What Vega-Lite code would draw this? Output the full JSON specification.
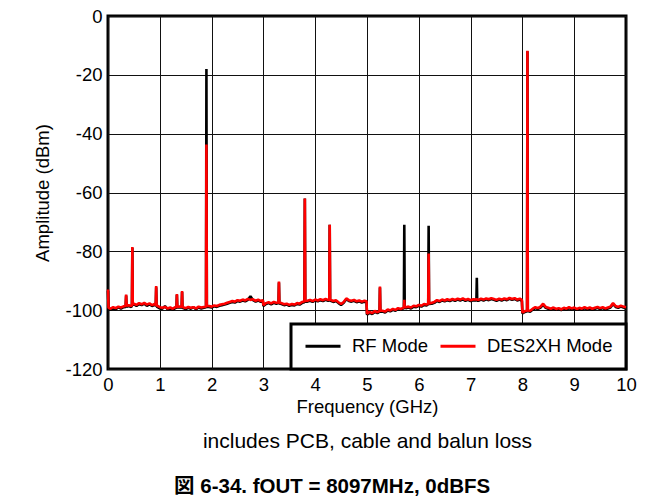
{
  "$schema": "https://vega.github.io/schema/vega-lite/v6.json",
  "autosize": "none",
  "width": 518,
  "height": 353,
  "padding": {"left": 108, "top": 16, "right": 37, "bottom": 133},
  "background": "white",
  "title": {
    "text": "図 6-34. fOUT = 8097MHz, 0dBFS",
    "orient": "bottom",
    "anchor": "middle",
    "frame": "bounds",
    "offset": 26,
    "dx": -3,
    "fontSize": 20.5,
    "fontWeight": "bold",
    "color": "black",
    "font": "Liberation Sans, Noto Sans CJK JP, sans-serif"
  },
  "config": {
    "font": "Liberation Sans, sans-serif",
    "locale": {"number": {"decimal": ".", "thousands": ",", "grouping": [3], "currency": ["$", ""], "minus": "-"}},
    "view": {"stroke": "black", "strokeWidth": 3},
    "axis": {
      "domain": false,
      "ticks": false,
      "grid": true,
      "gridColor": "#111",
      "gridWidth": 1,
      "gridOpacity": 1,
      "labelFlush": false,
      "labelFontSize": 18.5,
      "labelColor": "black",
      "titleFontSize": 18.5,
      "titleFontWeight": "normal",
      "titleColor": "black"
    }
  },
  "data": {
    "values": [
      {"f": 0.00, "RF Mode": -93.5, "DES2XH Mode": -93.0},
      {"f": 0.01, "RF Mode": -99.6, "DES2XH Mode": -99.2},
      {"f": 0.05, "RF Mode": -99.8, "DES2XH Mode": -99.5},
      {"f": 0.10, "RF Mode": -99.4, "DES2XH Mode": -99.0},
      {"f": 0.15, "RF Mode": -99.7, "DES2XH Mode": -99.3},
      {"f": 0.20, "RF Mode": -99.0, "DES2XH Mode": -98.8},
      {"f": 0.25, "RF Mode": -99.5, "DES2XH Mode": -99.1},
      {"f": 0.30, "RF Mode": -99.0, "DES2XH Mode": -98.7},
      {"f": 0.34, "RF Mode": -98.9, "DES2XH Mode": -98.6},
      {"f": 0.35, "RF Mode": -95.0, "DES2XH Mode": -94.7},
      {"f": 0.36, "RF Mode": -98.8, "DES2XH Mode": -98.5},
      {"f": 0.40, "RF Mode": -98.6, "DES2XH Mode": -98.3},
      {"f": 0.45, "RF Mode": -98.9, "DES2XH Mode": -98.6},
      {"f": 0.462, "RF Mode": -98.5, "DES2XH Mode": -98.3},
      {"f": 0.47, "RF Mode": -78.8, "DES2XH Mode": -78.5},
      {"f": 0.478, "RF Mode": -98.2, "DES2XH Mode": -98.0},
      {"f": 0.50, "RF Mode": -98.0, "DES2XH Mode": -97.8},
      {"f": 0.55, "RF Mode": -98.6, "DES2XH Mode": -98.2},
      {"f": 0.60, "RF Mode": -97.9, "DES2XH Mode": -97.6},
      {"f": 0.65, "RF Mode": -98.3, "DES2XH Mode": -98.0},
      {"f": 0.70, "RF Mode": -97.8, "DES2XH Mode": -97.5},
      {"f": 0.75, "RF Mode": -98.5, "DES2XH Mode": -98.1},
      {"f": 0.80, "RF Mode": -98.0, "DES2XH Mode": -97.7},
      {"f": 0.85, "RF Mode": -98.6, "DES2XH Mode": -98.3},
      {"f": 0.90, "RF Mode": -98.2, "DES2XH Mode": -97.9},
      {"f": 0.922, "RF Mode": -98.4, "DES2XH Mode": -98.2},
      {"f": 0.93, "RF Mode": -92.2, "DES2XH Mode": -91.8},
      {"f": 0.938, "RF Mode": -98.6, "DES2XH Mode": -98.4},
      {"f": 0.95, "RF Mode": -98.9, "DES2XH Mode": -98.5},
      {"f": 1.00, "RF Mode": -99.4, "DES2XH Mode": -99.0},
      {"f": 1.05, "RF Mode": -99.5, "DES2XH Mode": -99.2},
      {"f": 1.10, "RF Mode": -98.6, "DES2XH Mode": -98.9},
      {"f": 1.15, "RF Mode": -99.7, "DES2XH Mode": -99.4},
      {"f": 1.20, "RF Mode": -99.4, "DES2XH Mode": -99.1},
      {"f": 1.25, "RF Mode": -99.8, "DES2XH Mode": -99.5},
      {"f": 1.30, "RF Mode": -99.3, "DES2XH Mode": -99.0},
      {"f": 1.322, "RF Mode": -99.2, "DES2XH Mode": -99.0},
      {"f": 1.33, "RF Mode": -94.8, "DES2XH Mode": -94.5},
      {"f": 1.338, "RF Mode": -99.1, "DES2XH Mode": -98.9},
      {"f": 1.38, "RF Mode": -99.1, "DES2XH Mode": -98.8},
      {"f": 1.422, "RF Mode": -99.0, "DES2XH Mode": -98.8},
      {"f": 1.43, "RF Mode": -93.8, "DES2XH Mode": -93.5},
      {"f": 1.438, "RF Mode": -99.2, "DES2XH Mode": -99.0},
      {"f": 1.45, "RF Mode": -99.3, "DES2XH Mode": -99.0},
      {"f": 1.50, "RF Mode": -99.6, "DES2XH Mode": -99.3},
      {"f": 1.55, "RF Mode": -99.2, "DES2XH Mode": -98.9},
      {"f": 1.60, "RF Mode": -99.5, "DES2XH Mode": -99.2},
      {"f": 1.65, "RF Mode": -99.0, "DES2XH Mode": -99.0},
      {"f": 1.70, "RF Mode": -99.7, "DES2XH Mode": -99.4},
      {"f": 1.75, "RF Mode": -99.1, "DES2XH Mode": -98.8},
      {"f": 1.80, "RF Mode": -99.4, "DES2XH Mode": -99.1},
      {"f": 1.85, "RF Mode": -99.2, "DES2XH Mode": -98.9},
      {"f": 1.892, "RF Mode": -99.0, "DES2XH Mode": -98.8},
      {"f": 1.90, "RF Mode": -18.0, "DES2XH Mode": -43.7},
      {"f": 1.908, "RF Mode": -98.8, "DES2XH Mode": -98.6},
      {"f": 1.95, "RF Mode": -98.9, "DES2XH Mode": -98.6},
      {"f": 2.00, "RF Mode": -99.1, "DES2XH Mode": -98.8},
      {"f": 2.05, "RF Mode": -98.7, "DES2XH Mode": -98.4},
      {"f": 2.10, "RF Mode": -98.9, "DES2XH Mode": -98.6},
      {"f": 2.15, "RF Mode": -98.5, "DES2XH Mode": -98.2},
      {"f": 2.20, "RF Mode": -98.3, "DES2XH Mode": -98.0},
      {"f": 2.25, "RF Mode": -98.1, "DES2XH Mode": -97.8},
      {"f": 2.30, "RF Mode": -97.8, "DES2XH Mode": -97.5},
      {"f": 2.35, "RF Mode": -97.5, "DES2XH Mode": -97.2},
      {"f": 2.40, "RF Mode": -97.2, "DES2XH Mode": -96.9},
      {"f": 2.45, "RF Mode": -97.4, "DES2XH Mode": -97.1},
      {"f": 2.50, "RF Mode": -96.9, "DES2XH Mode": -96.6},
      {"f": 2.55, "RF Mode": -97.1, "DES2XH Mode": -96.8},
      {"f": 2.60, "RF Mode": -96.7, "DES2XH Mode": -96.4},
      {"f": 2.65, "RF Mode": -97.0, "DES2XH Mode": -96.7},
      {"f": 2.70, "RF Mode": -96.5, "DES2XH Mode": -96.2},
      {"f": 2.75, "RF Mode": -95.3, "DES2XH Mode": -96.5},
      {"f": 2.80, "RF Mode": -96.6, "DES2XH Mode": -96.3},
      {"f": 2.85, "RF Mode": -97.1, "DES2XH Mode": -96.8},
      {"f": 2.90, "RF Mode": -96.7, "DES2XH Mode": -96.4},
      {"f": 2.95, "RF Mode": -97.2, "DES2XH Mode": -96.9},
      {"f": 2.99, "RF Mode": -96.8, "DES2XH Mode": -96.6},
      {"f": 3.00, "RF Mode": -98.6, "DES2XH Mode": -98.3},
      {"f": 3.05, "RF Mode": -97.9, "DES2XH Mode": -97.6},
      {"f": 3.10, "RF Mode": -97.6, "DES2XH Mode": -97.3},
      {"f": 3.15, "RF Mode": -98.0, "DES2XH Mode": -97.7},
      {"f": 3.20, "RF Mode": -97.5, "DES2XH Mode": -97.2},
      {"f": 3.25, "RF Mode": -97.8, "DES2XH Mode": -97.5},
      {"f": 3.292, "RF Mode": -97.6, "DES2XH Mode": -97.4},
      {"f": 3.30, "RF Mode": -90.6, "DES2XH Mode": -90.3},
      {"f": 3.308, "RF Mode": -97.7, "DES2XH Mode": -97.5},
      {"f": 3.35, "RF Mode": -97.9, "DES2XH Mode": -97.6},
      {"f": 3.40, "RF Mode": -98.3, "DES2XH Mode": -98.0},
      {"f": 3.45, "RF Mode": -98.1, "DES2XH Mode": -97.8},
      {"f": 3.50, "RF Mode": -98.5, "DES2XH Mode": -98.2},
      {"f": 3.55, "RF Mode": -98.2, "DES2XH Mode": -97.9},
      {"f": 3.60, "RF Mode": -98.4, "DES2XH Mode": -98.1},
      {"f": 3.65, "RF Mode": -97.9, "DES2XH Mode": -97.6},
      {"f": 3.70, "RF Mode": -98.1, "DES2XH Mode": -97.8},
      {"f": 3.75, "RF Mode": -97.5, "DES2XH Mode": -97.2},
      {"f": 3.792, "RF Mode": -97.3, "DES2XH Mode": -97.0},
      {"f": 3.80, "RF Mode": -62.0, "DES2XH Mode": -62.0},
      {"f": 3.808, "RF Mode": -97.1, "DES2XH Mode": -96.9},
      {"f": 3.85, "RF Mode": -97.1, "DES2XH Mode": -96.8},
      {"f": 3.90, "RF Mode": -96.8, "DES2XH Mode": -96.5},
      {"f": 3.95, "RF Mode": -97.2, "DES2XH Mode": -96.9},
      {"f": 4.00, "RF Mode": -96.7, "DES2XH Mode": -96.4},
      {"f": 4.05, "RF Mode": -97.0, "DES2XH Mode": -96.7},
      {"f": 4.10, "RF Mode": -96.6, "DES2XH Mode": -96.3},
      {"f": 4.15, "RF Mode": -96.9, "DES2XH Mode": -96.6},
      {"f": 4.20, "RF Mode": -96.5, "DES2XH Mode": -96.2},
      {"f": 4.25, "RF Mode": -96.8, "DES2XH Mode": -96.5},
      {"f": 4.272, "RF Mode": -96.6, "DES2XH Mode": -96.4},
      {"f": 4.28, "RF Mode": -71.0, "DES2XH Mode": -71.0},
      {"f": 4.288, "RF Mode": -96.7, "DES2XH Mode": -96.5},
      {"f": 4.30, "RF Mode": -96.8, "DES2XH Mode": -96.5},
      {"f": 4.35, "RF Mode": -97.2, "DES2XH Mode": -96.9},
      {"f": 4.40, "RF Mode": -96.9, "DES2XH Mode": -96.6},
      {"f": 4.45, "RF Mode": -97.6, "DES2XH Mode": -97.3},
      {"f": 4.50, "RF Mode": -98.2, "DES2XH Mode": -97.9},
      {"f": 4.55, "RF Mode": -97.5, "DES2XH Mode": -97.2},
      {"f": 4.60, "RF Mode": -96.3, "DES2XH Mode": -96.0},
      {"f": 4.65, "RF Mode": -96.9, "DES2XH Mode": -96.6},
      {"f": 4.70, "RF Mode": -97.1, "DES2XH Mode": -96.8},
      {"f": 4.75, "RF Mode": -96.8, "DES2XH Mode": -96.5},
      {"f": 4.80, "RF Mode": -97.3, "DES2XH Mode": -97.0},
      {"f": 4.85, "RF Mode": -97.0, "DES2XH Mode": -96.7},
      {"f": 4.90, "RF Mode": -97.4, "DES2XH Mode": -97.1},
      {"f": 4.95, "RF Mode": -97.1, "DES2XH Mode": -96.8},
      {"f": 4.99, "RF Mode": -97.3, "DES2XH Mode": -97.0},
      {"f": 5.00, "RF Mode": -101.5, "DES2XH Mode": -101.2},
      {"f": 5.05, "RF Mode": -100.9, "DES2XH Mode": -100.6},
      {"f": 5.10, "RF Mode": -101.3, "DES2XH Mode": -101.0},
      {"f": 5.15, "RF Mode": -100.6, "DES2XH Mode": -100.3},
      {"f": 5.20, "RF Mode": -101.0, "DES2XH Mode": -100.7},
      {"f": 5.242, "RF Mode": -100.5, "DES2XH Mode": -100.3},
      {"f": 5.25, "RF Mode": -92.3, "DES2XH Mode": -92.0},
      {"f": 5.258, "RF Mode": -100.4, "DES2XH Mode": -100.2},
      {"f": 5.30, "RF Mode": -100.5, "DES2XH Mode": -100.2},
      {"f": 5.35, "RF Mode": -100.8, "DES2XH Mode": -100.5},
      {"f": 5.40, "RF Mode": -100.1, "DES2XH Mode": -99.8},
      {"f": 5.45, "RF Mode": -100.4, "DES2XH Mode": -100.1},
      {"f": 5.50, "RF Mode": -99.9, "DES2XH Mode": -99.6},
      {"f": 5.55, "RF Mode": -100.2, "DES2XH Mode": -99.9},
      {"f": 5.60, "RF Mode": -99.6, "DES2XH Mode": -99.3},
      {"f": 5.65, "RF Mode": -99.9, "DES2XH Mode": -99.6},
      {"f": 5.70, "RF Mode": -99.4, "DES2XH Mode": -99.2},
      {"f": 5.712, "RF Mode": -99.3, "DES2XH Mode": -99.0},
      {"f": 5.72, "RF Mode": -71.0, "DES2XH Mode": -96.5},
      {"f": 5.728, "RF Mode": -99.2, "DES2XH Mode": -99.0},
      {"f": 5.75, "RF Mode": -99.3, "DES2XH Mode": -99.0},
      {"f": 5.80, "RF Mode": -99.1, "DES2XH Mode": -98.8},
      {"f": 5.85, "RF Mode": -99.4, "DES2XH Mode": -99.1},
      {"f": 5.90, "RF Mode": -98.8, "DES2XH Mode": -98.5},
      {"f": 5.95, "RF Mode": -99.0, "DES2XH Mode": -98.7},
      {"f": 6.00, "RF Mode": -98.5, "DES2XH Mode": -98.2},
      {"f": 6.05, "RF Mode": -98.8, "DES2XH Mode": -98.5},
      {"f": 6.10, "RF Mode": -98.2, "DES2XH Mode": -97.9},
      {"f": 6.15, "RF Mode": -98.4, "DES2XH Mode": -98.1},
      {"f": 6.182, "RF Mode": -98.0, "DES2XH Mode": -97.8},
      {"f": 6.19, "RF Mode": -71.3, "DES2XH Mode": -80.7},
      {"f": 6.198, "RF Mode": -97.9, "DES2XH Mode": -97.7},
      {"f": 6.25, "RF Mode": -97.8, "DES2XH Mode": -97.5},
      {"f": 6.30, "RF Mode": -97.5, "DES2XH Mode": -97.2},
      {"f": 6.35, "RF Mode": -96.9, "DES2XH Mode": -96.6},
      {"f": 6.40, "RF Mode": -97.2, "DES2XH Mode": -96.9},
      {"f": 6.45, "RF Mode": -96.7, "DES2XH Mode": -96.4},
      {"f": 6.50, "RF Mode": -97.0, "DES2XH Mode": -96.7},
      {"f": 6.55, "RF Mode": -96.6, "DES2XH Mode": -96.3},
      {"f": 6.60, "RF Mode": -96.9, "DES2XH Mode": -96.6},
      {"f": 6.65, "RF Mode": -96.5, "DES2XH Mode": -96.2},
      {"f": 6.70, "RF Mode": -96.8, "DES2XH Mode": -96.5},
      {"f": 6.75, "RF Mode": -96.4, "DES2XH Mode": -96.1},
      {"f": 6.80, "RF Mode": -96.7, "DES2XH Mode": -96.4},
      {"f": 6.85, "RF Mode": -96.3, "DES2XH Mode": -96.0},
      {"f": 6.90, "RF Mode": -96.8, "DES2XH Mode": -96.5},
      {"f": 6.95, "RF Mode": -96.5, "DES2XH Mode": -96.2},
      {"f": 7.00, "RF Mode": -96.9, "DES2XH Mode": -96.6},
      {"f": 7.05, "RF Mode": -96.6, "DES2XH Mode": -96.3},
      {"f": 7.10, "RF Mode": -96.7, "DES2XH Mode": -96.4},
      {"f": 7.112, "RF Mode": -96.6, "DES2XH Mode": -96.3},
      {"f": 7.12, "RF Mode": -89.0, "DES2XH Mode": -96.2},
      {"f": 7.128, "RF Mode": -96.8, "DES2XH Mode": -96.4},
      {"f": 7.15, "RF Mode": -96.8, "DES2XH Mode": -96.5},
      {"f": 7.20, "RF Mode": -96.4, "DES2XH Mode": -96.1},
      {"f": 7.25, "RF Mode": -96.7, "DES2XH Mode": -96.4},
      {"f": 7.30, "RF Mode": -96.3, "DES2XH Mode": -96.0},
      {"f": 7.35, "RF Mode": -96.6, "DES2XH Mode": -96.3},
      {"f": 7.40, "RF Mode": -96.2, "DES2XH Mode": -95.9},
      {"f": 7.45, "RF Mode": -96.5, "DES2XH Mode": -96.2},
      {"f": 7.50, "RF Mode": -96.8, "DES2XH Mode": -96.5},
      {"f": 7.55, "RF Mode": -96.4, "DES2XH Mode": -96.1},
      {"f": 7.60, "RF Mode": -96.7, "DES2XH Mode": -96.4},
      {"f": 7.65, "RF Mode": -96.3, "DES2XH Mode": -96.0},
      {"f": 7.70, "RF Mode": -96.6, "DES2XH Mode": -96.3},
      {"f": 7.75, "RF Mode": -96.1, "DES2XH Mode": -95.8},
      {"f": 7.80, "RF Mode": -96.5, "DES2XH Mode": -96.2},
      {"f": 7.85, "RF Mode": -96.2, "DES2XH Mode": -95.9},
      {"f": 7.90, "RF Mode": -96.7, "DES2XH Mode": -96.4},
      {"f": 7.95, "RF Mode": -96.4, "DES2XH Mode": -96.1},
      {"f": 7.99, "RF Mode": -96.8, "DES2XH Mode": -96.5},
      {"f": 8.00, "RF Mode": -101.1, "DES2XH Mode": -100.8},
      {"f": 8.05, "RF Mode": -100.6, "DES2XH Mode": -100.3},
      {"f": 8.09, "RF Mode": -100.4, "DES2XH Mode": -100.2},
      {"f": 8.097, "RF Mode": -12.0, "DES2XH Mode": -11.8},
      {"f": 8.104, "RF Mode": -100.3, "DES2XH Mode": -100.1},
      {"f": 8.15, "RF Mode": -100.5, "DES2XH Mode": -100.2},
      {"f": 8.20, "RF Mode": -99.8, "DES2XH Mode": -99.5},
      {"f": 8.25, "RF Mode": -99.3, "DES2XH Mode": -99.0},
      {"f": 8.30, "RF Mode": -99.6, "DES2XH Mode": -99.3},
      {"f": 8.35, "RF Mode": -99.1, "DES2XH Mode": -98.8},
      {"f": 8.40, "RF Mode": -98.1, "DES2XH Mode": -97.8},
      {"f": 8.45, "RF Mode": -99.2, "DES2XH Mode": -98.9},
      {"f": 8.50, "RF Mode": -99.5, "DES2XH Mode": -99.2},
      {"f": 8.55, "RF Mode": -99.8, "DES2XH Mode": -99.5},
      {"f": 8.60, "RF Mode": -99.4, "DES2XH Mode": -99.1},
      {"f": 8.65, "RF Mode": -99.9, "DES2XH Mode": -99.6},
      {"f": 8.70, "RF Mode": -99.6, "DES2XH Mode": -99.3},
      {"f": 8.75, "RF Mode": -100.0, "DES2XH Mode": -99.7},
      {"f": 8.80, "RF Mode": -99.5, "DES2XH Mode": -99.2},
      {"f": 8.85, "RF Mode": -99.8, "DES2XH Mode": -99.5},
      {"f": 8.90, "RF Mode": -99.3, "DES2XH Mode": -99.0},
      {"f": 8.95, "RF Mode": -99.7, "DES2XH Mode": -99.4},
      {"f": 9.00, "RF Mode": -99.4, "DES2XH Mode": -99.1},
      {"f": 9.05, "RF Mode": -99.9, "DES2XH Mode": -99.6},
      {"f": 9.10, "RF Mode": -99.5, "DES2XH Mode": -99.2},
      {"f": 9.15, "RF Mode": -99.8, "DES2XH Mode": -99.5},
      {"f": 9.20, "RF Mode": -99.3, "DES2XH Mode": -99.0},
      {"f": 9.25, "RF Mode": -99.7, "DES2XH Mode": -99.4},
      {"f": 9.30, "RF Mode": -99.4, "DES2XH Mode": -99.1},
      {"f": 9.35, "RF Mode": -99.8, "DES2XH Mode": -99.5},
      {"f": 9.40, "RF Mode": -99.5, "DES2XH Mode": -99.2},
      {"f": 9.45, "RF Mode": -99.2, "DES2XH Mode": -98.9},
      {"f": 9.50, "RF Mode": -99.6, "DES2XH Mode": -99.3},
      {"f": 9.55, "RF Mode": -99.3, "DES2XH Mode": -99.0},
      {"f": 9.60, "RF Mode": -99.7, "DES2XH Mode": -99.4},
      {"f": 9.65, "RF Mode": -99.4, "DES2XH Mode": -99.1},
      {"f": 9.70, "RF Mode": -99.1, "DES2XH Mode": -98.8},
      {"f": 9.75, "RF Mode": -97.9, "DES2XH Mode": -97.6},
      {"f": 9.80, "RF Mode": -98.9, "DES2XH Mode": -98.6},
      {"f": 9.85, "RF Mode": -99.2, "DES2XH Mode": -98.9},
      {"f": 9.90, "RF Mode": -98.8, "DES2XH Mode": -98.5},
      {"f": 9.95, "RF Mode": -99.1, "DES2XH Mode": -98.8},
      {"f": 10.00, "RF Mode": -99.3, "DES2XH Mode": -99.0}
    ]
  },
  "transform": [
    {"fold": ["RF Mode", "DES2XH Mode"], "as": ["series", "amp"]}
  ],
  "encoding": {
    "y": {
      "field": "amp",
      "type": "quantitative",
      "scale": {"domain": [-120, 0], "nice": false, "zero": false},
      "axis": {
        "title": "Amplitude (dBm)",
        "values": [-120, -100, -80, -60, -40, -20, 0],
        "labelPadding": 6,
        "titlePadding": 12
      }
    },
    "color": {
      "field": "series",
      "type": "nominal",
      "scale": {"domain": ["RF Mode", "DES2XH Mode"], "range": ["black", "#ff0000"]},
      "legend": {
        "title": null,
        "orient": "bottom-right",
        "offset": 0,
        "direction": "horizontal",
        "strokeColor": "black",
        "fillColor": "white",
        "padding": 13,
        "labelFontSize": 18.5,
        "labelColor": "black",
        "symbolType": "stroke",
        "symbolStrokeWidth": 3,
        "symbolSize": 1225,
        "clipHeight": 18,
        "labelOffset": 10,
        "columnPadding": 10,
        "encode": {"legend": {"update": {"strokeWidth": {"value": 3}}}}
      }
    }
  },
  "resolve": {"axis": {"x": "independent"}},
  "layer": [
    {
      "transform": [{"filter": "datum.series === 'RF Mode'"}],
      "mark": {"type": "line", "strokeWidth": 2.6, "strokeJoin": "bevel"},
      "encoding": {
        "x": {
          "field": "f",
          "type": "quantitative",
          "scale": {"domain": [0, 10], "nice": false, "zero": false},
          "axis": {
            "orient": "bottom",
            "title": "Frequency (GHz)",
            "values": [0, 1, 2, 3, 4, 5, 6, 7, 8, 9, 10],
            "labelPadding": 6,
            "titlePadding": 4
          }
        }
      }
    },
    {
      "transform": [{"filter": "datum.series === 'DES2XH Mode'"}],
      "mark": {"type": "line", "strokeWidth": 2.6, "strokeJoin": "bevel"},
      "encoding": {
        "x": {
          "field": "f",
          "type": "quantitative",
          "scale": {"domain": [0, 10], "nice": false, "zero": false},
          "axis": {
            "orient": "bottom",
            "title": "includes PCB, cable and balun loss",
            "titleFontSize": 21,
            "labels": false,
            "grid": false,
            "ticks": false,
            "domain": false,
            "offset": 0,
            "titlePadding": 61
          }
        }
      }
    }
  ]
}
